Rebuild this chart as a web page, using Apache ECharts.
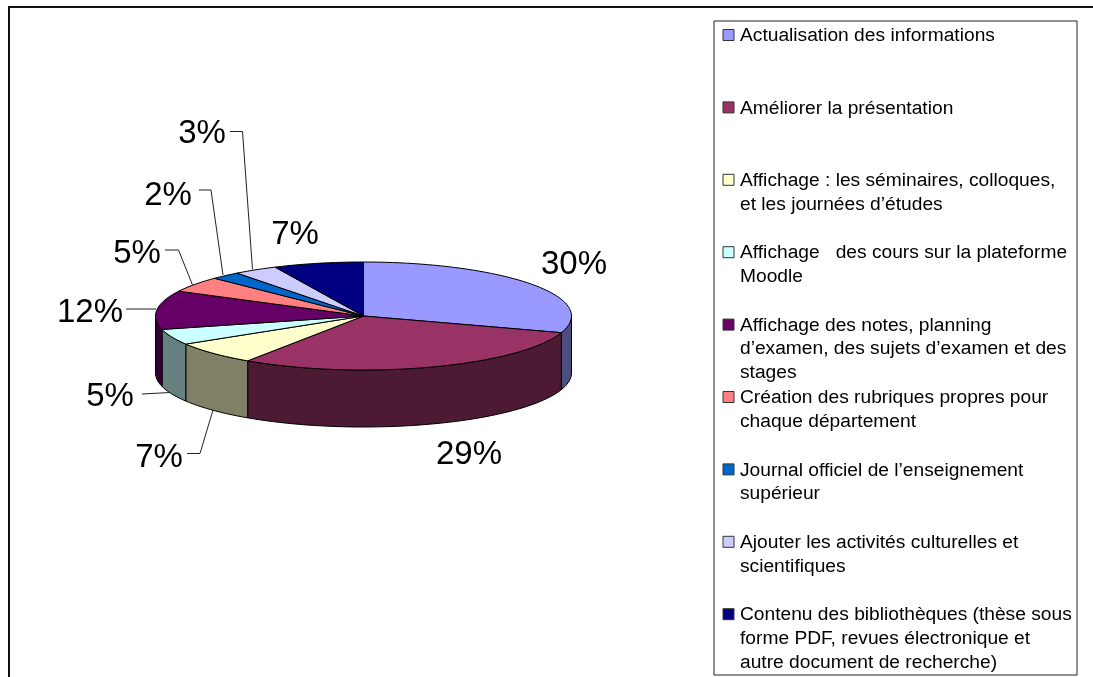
<!DOCTYPE html>
<html><head><meta charset="utf-8">
<style>html,body{margin:0;padding:0;background:#fff}#c{width:1093px;height:677px}</style>
<script src="https://cdn.jsdelivr.net/npm/echarts@6/dist/echarts.min.js"></script>
</head><body><div id="c"></div>
<script>
const categories = [
  "Actualisation des informations",
  "Améliorer la présentation",
  "Affichage : les séminaires, colloques,\net les journées d’études",
  "Affichage   des cours sur la plateforme\nMoodle",
  "Affichage des notes, planning\nd’examen, des sujets d’examen et des\nstages",
  "Création des rubriques propres pour\nchaque département",
  "Journal officiel de l’enseignement\nsupérieur",
  "Ajouter les activités culturelles et\nscientifiques",
  "Contenu des bibliothèques (thèse sous\nforme PDF, revues électronique et\nautre document de recherche)"
];
const values = [30, 29.4, 6.9, 4.7, 11.6, 4.7, 2.3, 3.4, 7];
const topColors  = ["#9999FF","#993366","#FFFFCC","#CCFFFF","#660066","#FF8080","#0066CC","#CCCCFF","#000080"];
const sideColors = ["#4D4D80","#4D1A33","#808066","#668080","#330033","#804040","#003366","#666680","#000040"];

// Label placement (page pixels): text anchor, then the leader polyline.
const labelLayout = [
  {x:574, y:265, line:null},
  {x:469, y:455, line:null},
  {x:159, y:458, line:[[187,453.5],[200,453.5],[213,410]]},
  {x:110, y:397, line:[[142,394],[170,392.5]]},
  {x:90,  y:313, line:[[126,309],[156,309]]},
  {x:137, y:254, line:[[165,250],[178.5,250],[192.5,285]]},
  {x:168, y:196, line:[[199,190],[211,190],[223,275]]},
  {x:202, y:134, line:[[230,131.5],[242.5,131.5],[252.5,269.5]]},
  {x:295, y:235, line:null}
];

const DEPTH = 57 / 54;          // wall height, in units of the y radius
const FONT = '"Liberation Sans", Arial, sans-serif';
const total = values.reduce((a, b) => a + b, 0);
let running = 0;
const sliceData = values.map((v, i) => {
  const start = running / total * 360;
  running += v;
  return { name: categories[i], value: [start, running / total * 360, i] };
});

function rim(api, a, b, drop) {
  const n = Math.max(2, Math.ceil((b - a) / 2));
  const pts = [];
  for (let k = 0; k <= n; k++) {
    const t = (a + (b - a) * k / n) * Math.PI / 180;
    pts.push(api.coord([Math.sin(t), Math.cos(t) - drop]));
  }
  return pts;
}
function renderWall(params, api) {
  const a = Math.max(api.value(0), 90), b = Math.min(api.value(1), 270);
  if (b <= a) return null;
  const i = api.value(2);
  const pts = rim(api, a, b, 0).concat(rim(api, a, b, DEPTH).reverse());
  return { type:'polygon', shape:{points:pts}, style:{fill:sideColors[i], stroke:'#000', lineWidth:1} };
}
function renderTop(params, api) {
  const i = api.value(2);
  const pts = [api.coord([0, 0])].concat(rim(api, api.value(0), api.value(1), 0));
  return { type:'polygon', shape:{points:pts}, style:{fill:topColors[i], stroke:'#000', lineWidth:1} };
}
function renderLabel(params, api) {
  const i = params.dataIndex, L = labelLayout[i], kids = [];
  if (L.line) kids.push({ type:'polyline', shape:{points:L.line}, style:{fill:'none', stroke:'#222', lineWidth:1} });
  kids.push({ type:'text', style:{ text: Math.round(values[i]) + '%', x:L.x, y:L.y, align:'center', verticalAlign:'middle', font:'33px ' + FONT, fill:'#000' } });
  return { type:'group', children:kids };
}
function renderLegend(params, api) {
  const i = api.value(1);
  const p = api.coord([0, i]);
  return { type:'group', children:[
    { type:'rect', shape:{x:p[0]+9, y:p[1]-5.5, width:11, height:11}, style:{fill:topColors[i], stroke:'#333', lineWidth:1} },
    { type:'text', style:{ text:categories[i], x:p[0]+26, y:p[1]-11, align:'left', verticalAlign:'top', font:'19.2px ' + FONT, lineHeight:23.7, fill:'#000' } }
  ]};
}

const chart = echarts.init(document.getElementById('c'), null, {renderer:'canvas'});
chart.setOption({
  animation:false,
  backgroundColor:'#fff',
  grid:[
    {left:155.5, top:262, width:416, height:54*(2+DEPTH), show:false},
    {left:714, top:21, width:363, height:654, show:true, backgroundColor:'#fff', borderColor:'#222', borderWidth:1}
  ],
  xAxis:[
    {type:'value', gridIndex:0, min:-1, max:1, show:false},
    {type:'value', gridIndex:1, min:0, max:1, show:false}
  ],
  yAxis:[
    {type:'value', gridIndex:0, min:-1-DEPTH, max:1, show:false},
    {type:'value', gridIndex:1, inverse:true, min:-14/72.4, max:(654-14)/72.4, show:false}
  ],
  graphic:[
    {type:'line', silent:true, shape:{x1:9, y1:7, x2:1093, y2:7}, style:{stroke:'#111', lineWidth:2}},
    {type:'line', silent:true, shape:{x1:9, y1:6, x2:9, y2:677}, style:{stroke:'#111', lineWidth:2}}
  ],
  series:[
    {type:'custom', xAxisIndex:0, yAxisIndex:0, clip:false, z:2, silent:true, renderItem:renderWall, data:sliceData, encode:{x:[],y:[]}},
    {type:'custom', xAxisIndex:0, yAxisIndex:0, clip:false, z:3, silent:true, renderItem:renderTop,  data:sliceData, encode:{x:[],y:[]}},
    {type:'custom', coordinateSystem:'none', z:4, silent:true, renderItem:renderLabel, data:values},
    {type:'custom', xAxisIndex:1, yAxisIndex:1, clip:false, z:5, silent:true, renderItem:renderLegend,
     data:categories.map((c, i) => [0, i])}
  ]
});
</script></body></html>
